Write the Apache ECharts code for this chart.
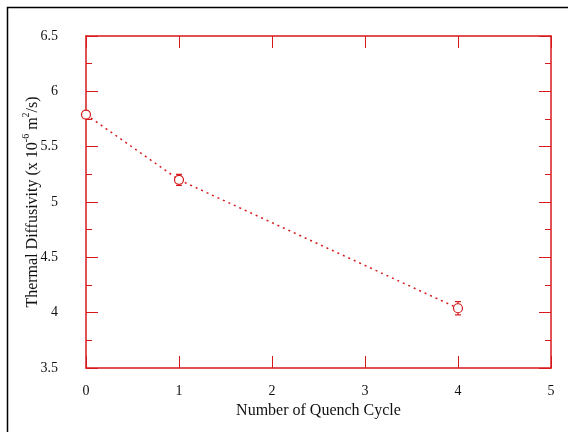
<!DOCTYPE html>
<html>
<head>
<meta charset="utf-8">
<script src="https://cdn.jsdelivr.net/npm/echarts@6/dist/echarts.min.js"></script>
<style>
  html, body { margin: 0; padding: 0; background: #fff; }
  #chart { width: 568px; height: 432px; }
</style>
</head>
<body>
<div id="chart"></div>
<script>
// Thermal diffusivity after repeated quench cycles
const cycles = [0, 1, 4];
const diffusivity = [5.79, 5.20, 4.04];
const errors = [0.02, 0.05, 0.06];
const xTicks = [0, 1, 2, 3, 4, 5];
const yTicks = [3.5, 4, 4.5, 5, 5.5, 6, 6.5];

const red = '#d7191c';
const font = '"Liberation Serif", "Times New Roman", serif';

const points = cycles.map((c, i) => [c, diffusivity[i]]);
const bars = cycles.map((c, i) => [c, diffusivity[i] - errors[i], diffusivity[i] + errors[i]]);

const chart = echarts.init(document.getElementById('chart'), null, { renderer: 'canvas' });

const tickStyle = { show: true, inside: true, length: 12, lineStyle: { color: red, width: 1 } };
const minorStyle = { show: true, splitNumber: 2, length: 6, lineStyle: { color: red, width: 1 } };
const lineStyle = { show: true, onZero: false, lineStyle: { color: red, width: 1.5 } };
const labelStyle = { color: '#111', fontFamily: font, fontSize: 14 };

chart.setOption({
  animation: false,
  backgroundColor: '#fff',
  grid: { left: 86, right: 17, top: 36, bottom: 64 },
  graphic: [{
    type: 'rect',
    shape: { x: 7.5, y: 7.5, width: 700, height: 700 },
    style: { fill: null, stroke: '#000', lineWidth: 1.5 },
    silent: true,
    z: -1
  }],
  xAxis: [{
    type: 'value', min: 0, max: 5, interval: 1, position: 'bottom',
    axisLine: lineStyle,
    splitLine: { show: false },
    axisTick: tickStyle,
    axisLabel: { ...labelStyle, margin: 16, formatter: v => xTicks.includes(v) ? String(v) : '' },
    name: 'Number of Quench Cycle', nameLocation: 'middle', nameGap: 35,
    nameMoveOverlap: false,
    nameTextStyle: { color: '#111', fontFamily: font, fontSize: 16 }
  }, {
    type: 'value', min: 0, max: 5, interval: 1, position: 'top',
    axisLine: lineStyle,
    splitLine: { show: false },
    axisTick: tickStyle,
    axisLabel: { show: false }
  }],
  yAxis: [{
    type: 'value', min: 3.5, max: 6.5, interval: 0.5, position: 'left',
    axisLine: lineStyle,
    splitLine: { show: false },
    axisTick: tickStyle,
    minorTick: minorStyle,
    axisLabel: { ...labelStyle, margin: 28, formatter: v => yTicks.includes(v) ? String(v) : '' },
    name: '{n|Thermal Diffusivity (x 10}{s|-6}{n| m}{s|2}{n|/s)}',
    nameLocation: 'middle', nameGap: 45, nameRotate: 90,
    nameMoveOverlap: false,
    nameTextStyle: {
      color: '#111', fontFamily: font, fontSize: 16,
      rich: {
        n: { fontFamily: font, fontSize: 16, color: '#111', lineHeight: 20, verticalAlign: 'bottom' },
        s: { fontFamily: font, fontSize: 10, color: '#111', lineHeight: 20, verticalAlign: 'top' }
      }
    }
  }, {
    type: 'value', min: 3.5, max: 6.5, interval: 0.5, position: 'right',
    axisLine: lineStyle,
    splitLine: { show: false },
    axisTick: tickStyle,
    minorTick: minorStyle,
    axisLabel: { show: false }
  }],
  series: [{
    type: 'line',
    xAxisIndex: 0, yAxisIndex: 0,
    data: points,
    symbol: 'circle',
    symbolSize: 9,
    itemStyle: { color: '#fff', borderColor: red, borderWidth: 1.2 },
    lineStyle: { color: red, width: 1.5, type: [2, 4] },
    z: 3
  }, {
    type: 'custom',
    xAxisIndex: 0, yAxisIndex: 0,
    data: bars,
    renderItem: (params, api) => {
      const x = api.value(0);
      const lo = api.coord([x, api.value(1)]);
      const hi = api.coord([x, api.value(2)]);
      const cap = 3;
      const style = { stroke: red, lineWidth: 1.2 };
      return {
        type: 'group',
        children: [
          { type: 'line', shape: { x1: lo[0], y1: lo[1], x2: hi[0], y2: hi[1] }, style },
          { type: 'line', shape: { x1: lo[0] - cap, y1: lo[1], x2: lo[0] + cap, y2: lo[1] }, style },
          { type: 'line', shape: { x1: hi[0] - cap, y1: hi[1], x2: hi[0] + cap, y2: hi[1] }, style }
        ]
      };
    },
    z: 2
  }]
});
</script>
</body>
</html>
